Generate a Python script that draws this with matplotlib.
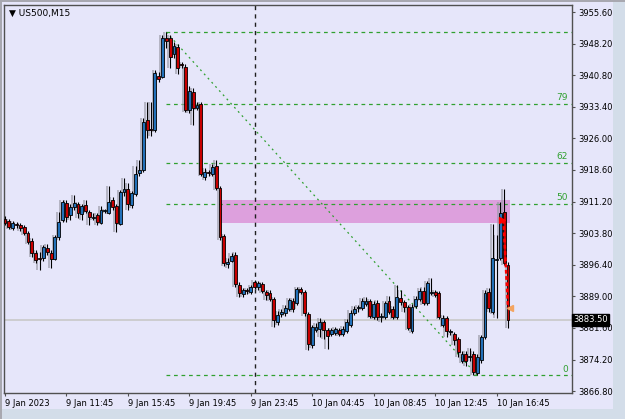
import matplotlib
matplotlib.use("Agg")
import matplotlib.pyplot as plt
from matplotlib.patches import Rectangle
import numpy as np

# US500 M15 candles (bar 0 = 9 Jan 07:45)
opens = [3907.1, 3906.7, 3905.0, 3905.7, 3905.7, 3905.2, 3903.9, 3902.0, 3899.2, 3897.8,
         3898.0, 3900.4, 3899.2, 3897.8, 3902.9, 3906.9, 3910.9, 3908.1, 3910.0, 3910.7,
         3908.3, 3910.4, 3908.8, 3907.4, 3908.1, 3906.2, 3909.0, 3908.6, 3911.6, 3910.2,
         3905.9, 3913.5, 3914.2, 3910.4, 3913.0, 3917.9, 3918.6, 3930.3, 3928.0, 3928.0,
         3940.6, 3940.4, 3949.5, 3949.5, 3945.8, 3947.4, 3943.2, 3942.7, 3932.7, 3936.9,
         3933.1, 3934.1, 3917.0, 3917.9, 3917.7, 3919.5, 3914.4, 3903.1, 3896.6, 3897.3,
         3898.7, 3891.7, 3889.6, 3890.3, 3890.1, 3892.4, 3891.2, 3891.9, 3890.1, 3889.8,
         3888.4, 3883.0, 3884.9, 3885.2, 3886.1, 3888.0, 3887.5, 3890.8, 3890.1, 3884.9,
         3877.7, 3881.2, 3881.4, 3883.0, 3881.2, 3880.2, 3880.5, 3881.2, 3880.2, 3880.9,
         3882.3, 3885.2, 3886.3, 3886.3, 3887.3, 3888.0, 3884.2, 3887.5, 3884.2, 3884.2,
         3888.0, 3886.1, 3884.2, 3888.7, 3887.7, 3886.6, 3880.9, 3886.8, 3888.4, 3890.3,
         3887.5, 3889.8, 3890.1, 3889.8, 3882.3, 3884.0, 3880.7, 3880.2, 3879.1, 3873.8,
         3875.6, 3874.7, 3875.6, 3871.0, 3874.0, 3879.5, 3890.1, 3885.4, 3897.5, 3898.0,
         3908.8, 3896.3]
closes = [3906.2, 3905.2, 3906.2, 3905.6, 3905.0, 3903.9, 3901.8, 3899.2, 3897.5, 3897.7,
          3900.6, 3899.4, 3897.8, 3902.9, 3906.4, 3911.1, 3907.6, 3910.0, 3910.9, 3908.6,
          3910.2, 3909.0, 3907.6, 3907.6, 3906.4, 3909.3, 3909.1, 3911.1, 3910.0, 3906.2,
          3913.5, 3914.2, 3910.7, 3913.2, 3917.7, 3918.6, 3929.8, 3928.0, 3927.9, 3941.3,
          3939.9, 3949.5, 3948.8, 3945.1, 3947.6, 3942.5, 3943.1, 3932.7, 3937.1, 3933.1,
          3933.8, 3917.7, 3918.1, 3917.8, 3919.3, 3914.4, 3902.9, 3896.8, 3897.1, 3898.5,
          3891.9, 3889.8, 3890.5, 3890.2, 3891.2, 3891.2, 3892.2, 3890.3, 3889.4, 3888.4,
          3883.5, 3884.7, 3885.4, 3886.3, 3888.2, 3886.1, 3890.8, 3890.1, 3885.2, 3877.9,
          3881.9, 3881.9, 3883.0, 3881.2, 3879.8, 3881.2, 3881.4, 3880.2, 3881.4, 3883.0,
          3885.2, 3886.1, 3886.4, 3888.0, 3888.0, 3884.5, 3887.3, 3884.2, 3884.3, 3887.5,
          3885.4, 3884.2, 3888.9, 3887.7, 3886.6, 3881.6, 3886.6, 3888.4, 3890.3, 3887.5,
          3892.2, 3889.9, 3889.4, 3884.2, 3884.0, 3880.9, 3880.8, 3878.8, 3875.9, 3875.6,
          3873.8, 3874.8, 3871.2, 3874.7, 3879.5, 3889.8, 3886.3, 3898.0, 3897.6, 3908.5,
          3896.8, 3883.5]
highs = [3907.9, 3907.1, 3906.7, 3906.4, 3906.2, 3905.7, 3904.3, 3902.7, 3899.9, 3899.4,
         3901.0, 3901.3, 3899.9, 3903.4, 3908.8, 3911.6, 3911.6, 3910.7, 3912.8, 3911.1,
         3910.7, 3911.6, 3909.3, 3908.6, 3908.6, 3910.2, 3909.5, 3914.9, 3912.3, 3910.7,
         3913.9, 3916.7, 3915.6, 3913.7, 3919.5, 3920.9, 3930.8, 3934.5, 3934.5, 3942.0,
         3941.6, 3950.2, 3950.9, 3950.2, 3948.6, 3948.1, 3943.9, 3943.4, 3938.3, 3937.8,
         3934.5, 3934.5, 3919.1, 3918.6, 3920.0, 3920.9, 3914.9, 3903.6, 3898.0, 3899.2,
         3899.4, 3892.4, 3891.0, 3891.0, 3891.7, 3892.9, 3892.6, 3892.4, 3890.5, 3890.5,
         3888.9, 3885.6, 3886.1, 3887.0, 3888.7, 3888.7, 3891.2, 3891.2, 3890.5, 3885.4,
         3882.3, 3882.8, 3884.0, 3883.5, 3881.6, 3881.6, 3881.9, 3881.6, 3882.1, 3883.8,
         3885.9, 3886.8, 3887.0, 3888.7, 3888.9, 3888.4, 3888.0, 3888.2, 3885.2, 3888.0,
         3889.1, 3886.8, 3891.7, 3890.5, 3888.2, 3887.0, 3887.3, 3889.1, 3891.0, 3891.2,
         3892.6, 3893.3, 3890.5, 3890.3, 3884.7, 3884.5, 3881.4, 3880.7, 3879.5, 3876.3,
         3876.3, 3877.0, 3876.3, 3875.4, 3880.0, 3890.5, 3891.0, 3906.0, 3903.4, 3911.1,
         3914.1, 3897.0]
lows = [3905.7, 3904.8, 3904.6, 3905.0, 3904.3, 3903.4, 3901.3, 3898.3, 3896.8, 3895.2,
        3897.3, 3898.7, 3895.7, 3897.5, 3902.2, 3906.4, 3906.4, 3906.9, 3909.3, 3907.4,
        3906.9, 3908.6, 3905.7, 3906.9, 3905.7, 3905.9, 3908.6, 3908.3, 3909.3, 3904.1,
        3905.7, 3912.5, 3909.3, 3909.7, 3912.5, 3917.2, 3918.1, 3926.1, 3926.6, 3927.5,
        3939.2, 3940.2, 3947.2, 3942.5, 3944.8, 3941.1, 3942.5, 3932.2, 3932.0, 3929.1,
        3932.7, 3917.2, 3916.3, 3917.2, 3917.2, 3913.9, 3902.2, 3896.1, 3895.6, 3897.1,
        3891.2, 3888.9, 3888.9, 3889.6, 3889.6, 3890.8, 3890.5, 3889.8, 3888.2, 3888.0,
        3881.9, 3882.3, 3884.2, 3884.5, 3885.6, 3885.4, 3887.0, 3889.6, 3884.5, 3876.5,
        3877.0, 3880.7, 3879.6, 3879.1, 3876.7, 3879.8, 3880.0, 3879.8, 3879.8, 3880.5,
        3881.9, 3884.7, 3885.4, 3885.9, 3886.8, 3884.0, 3883.7, 3883.5, 3883.0, 3883.7,
        3884.9, 3883.7, 3883.7, 3887.0, 3885.4, 3881.2, 3880.5, 3886.3, 3888.0, 3887.0,
        3887.0, 3889.4, 3888.9, 3883.7, 3881.9, 3879.5, 3880.0, 3877.7, 3874.7, 3873.3,
        3872.8, 3873.8, 3870.5, 3870.5, 3873.5, 3879.1, 3885.4, 3884.9, 3883.9, 3897.5,
        3896.3, 3881.6]

time_labels = ["9 Jan 2023", "9 Jan 11:45", "9 Jan 15:45", "9 Jan 19:45", "9 Jan 23:45",
               "10 Jan 04:45", "10 Jan 08:45", "10 Jan 12:45", "10 Jan 16:45"]
label_every = 16
price_ticks = [3955.60, 3948.20, 3940.80, 3933.40, 3926.00, 3918.60, 3911.20,
               3903.80, 3896.40, 3889.00, 3881.60, 3874.20, 3866.80]

# fibonacci from swing high to swing low
fib_high, fib_high_bar = 3950.9, 42
fib_low, fib_low_bar = 3870.5, 123
fib_levels = [100, 79, 62, 50, 0]
fib_names = ["", "79", "62", "50", "0"]

zone_bars = (55.8, 131.4)
zone_prices = (3906.2, 3911.6)
bid = 3883.50
separator_bar = 65
trade_bars = (129.8, 131.0)
trade_prices = (3906.9, 3886.3)

BG = "#e6e6fa"
BULL = "#2270b8"
BEAR = "#c80000"
FIB = "#30a030"

opens, closes = np.array(opens), np.array(closes)
highs, lows = np.array(highs), np.array(lows)
n = len(opens)
x = np.arange(n)

fig = plt.figure(figsize=(6.25, 4.19), dpi=100, facecolor=BG)
ax = fig.add_axes([4 / 625, 26 / 419, 568 / 625, 388 / 419], facecolor=BG)
ax.set_xlim(-0.26, 147.66)
ax.set_ylim(3866.37, 3957.24)

# window frame
fig.patches.append(Rectangle((613 / 625, 0), 12 / 625, 1, transform=fig.transFigure,
                             facecolor="#d3dde9", edgecolor="none", zorder=-1))
fig.patches.append(Rectangle((0, 0), 1, 10 / 419, transform=fig.transFigure,
                             facecolor="#d3dde9", edgecolor="none", zorder=-1))
fig.patches.append(Rectangle((0, 0), 2 / 625, 1, transform=fig.transFigure,
                             facecolor="#a8a8b0", edgecolor="none", zorder=-1))
fig.patches.append(Rectangle((0, 417 / 419), 1, 2 / 419, transform=fig.transFigure,
                             facecolor="#a8a8b0", edgecolor="none", zorder=-1))

# zone and guide lines
ax.add_patch(Rectangle((zone_bars[0], zone_prices[0]), zone_bars[1] - zone_bars[0],
                       zone_prices[1] - zone_prices[0], facecolor="#dda0dd",
                       edgecolor="none", zorder=1))
ax.axhline(bid, color="#c8c8c8", lw=1.2, zorder=1)
ax.axvline(separator_bar, color="#202020", lw=1, ls=(0, (3, 3)), zorder=2)

rng = fib_high - fib_low
for lvl, name in zip(fib_levels, fib_names):
    p = fib_low + rng * lvl / 100
    ax.plot([fib_high_bar, 147.66], [p, p], color=FIB, lw=0.9, ls=(0, (3, 3)), zorder=2)
    if name:
        ax.text(146.6, p + 0.4, name, color=FIB, fontsize=6.5, ha="right", va="bottom")
ax.plot([fib_high_bar, fib_low_bar], [fib_high, fib_low], color=FIB, lw=0.9,
        ls=(0, (1.5, 3)), zorder=2)

# gray shadow bars behind candles
prev = np.concatenate([[closes[0]], closes[:-1]])
ax.vlines(x - 0.55, np.minimum(lows, prev), np.maximum(highs, prev),
          color="#9a9aa6", lw=1.3, alpha=0.7, zorder=3)

# candles
ax.vlines(x, lows, highs, color="black", lw=0.8, zorder=4)
up = closes >= opens
body = np.maximum(np.abs(closes - opens), 0.25)
ax.bar(x, body, bottom=np.minimum(opens, closes), width=0.75,
       color=np.where(up, BULL, BEAR), edgecolor="black", lw=0.6, zorder=5)

# trade marks
ax.plot(trade_bars, trade_prices, color="red", lw=1.8, ls=(0, (1.5, 1)), zorder=6)
ax.plot(trade_bars[0] - 0.3, trade_prices[0], marker=">", color="red", ms=5, zorder=7)
ax.plot(trade_bars[1] + 0.5, trade_prices[1], marker="<", color="#f4a460", ms=5, zorder=7)

# axes
for s in ax.spines.values():
    s.set_color("#505050")
    s.set_linewidth(1)
ax.yaxis.tick_right()
ax.set_yticks(price_ticks)
ax.set_yticklabels([f"{p:.2f}" for p in price_ticks])
ax.set_xticks(np.arange(len(time_labels)) * label_every)
ax.set_xticklabels(time_labels, ha="left")
ax.tick_params(axis="both", labelsize=6, length=2.5, width=0.8, color="#505050",
               labelcolor="black")
ax.tick_params(axis="x", pad=1.5)
ax.tick_params(axis="y", pad=2)

ax.text(147.9, bid, f"{bid:.2f}", fontsize=6, color="white", va="center", ha="left",
        bbox=dict(boxstyle="square,pad=0.15", facecolor="black", edgecolor="black"),
        zorder=10, clip_on=False)

fig.text(9 / 625, 1 - 13 / 419, "\u25bc US500,M15", fontsize=6.5, va="center", ha="left")

fig.savefig("out.png", dpi=100, facecolor=BG)
